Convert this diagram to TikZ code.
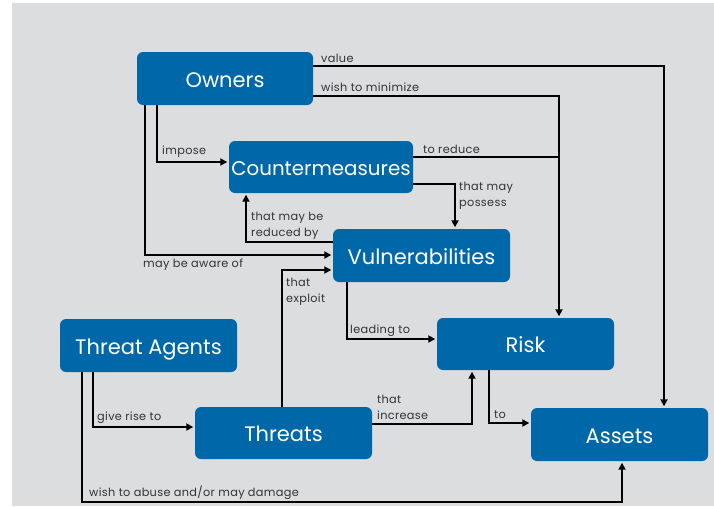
\documentclass[tikz,border=0pt]{standalone}
\usepackage{fontspec}
\setmainfont{Poppins}
\newfontfamily\lblfont[LetterSpace=3]{Poppins}
\usetikzlibrary{arrows.meta}
\definecolor{bg}{HTML}{DCDDDF}
\definecolor{boxblue}{HTML}{0068A8}
\definecolor{lbl}{HTML}{333333}
\begin{document}
\begin{tikzpicture}[x=1pt,y=-1pt,
  box/.style={draw=none,fill=boxblue,rounded corners=6pt,text=white,font=\fontsize{21}{24}\selectfont,inner sep=0pt,text height=17.6pt,text depth=0pt},
  conn/.style={line width=1.7pt,black},
  arr/.style={conn,-{Triangle[length=7pt,width=7pt]},shorten >=1.5pt},
  lab/.style={anchor=base west,inner sep=0pt,text=lbl,font=\lblfont\fontsize{11.3}{15.5}\selectfont,align=left}]
\useasboundingbox (0,0) rectangle (714,506);
\fill[white] (0,0) rectangle (714,506);
\fill[bg] (12,3) rectangle (714,506);
\node[box,minimum width=176pt,minimum height=53pt] (own) at (225,78.5) {Owners};
\node[box,minimum width=184pt,minimum height=52pt,font=\fontsize{19.8}{24}\selectfont] (cm) at (321,167) {Countermeasures};
\node[box,minimum width=177pt,minimum height=53pt] (vul) at (421.5,255.5) {Vulnerabilities};
\node[box,minimum width=177pt,minimum height=53pt] (ta) at (148.5,345.5) {Threat Agents};
\node[box,minimum width=177pt,minimum height=52pt] (thr) at (283.5,433) {Threats};
\node[box,minimum width=177pt,minimum height=52pt] (risk) at (525.5,344) {Risk};
\node[box,minimum width=177pt,minimum height=53pt] (ast) at (619.5,434.5) {Assets};
\coordinate (j) at (559,157);
\coordinate (bend) at (622,502);
% connectors
\draw[arr] (own.east |- 0,66) -| (ast.north -| 664,0);
\draw[arr] (own.east |- 0,96) -| (risk.north -| 559,0);
\draw[conn] (cm.east |- 0,157) -- (j);
\draw[arr] (cm.east |- 0,184) -| (vul.north -| 455,0);
\draw[arr] (own.south -| 157,0) |- (cm.west |- 0,162);
\draw[arr] (own.south -| 145,0) |- (vul.west |- 0,255);
\draw[arr] (vul.west |- 0,242) -| (cm.south -| 246,0);
\draw[arr] (thr.north -| 282,0) |- (vul.west |- 0,270);
\draw[arr] (vul.south -| 347,0) |- (risk.west |- 0,339);
\draw[arr] (ta.south -| 93,0) |- (thr.west |- 0,427);
\draw[arr] (ta.south -| 82,0) |- (bend) -- (ast.south -| bend);
\draw[arr] (thr.east |- 0,424) -| (risk.south -| 472,0);
\draw[arr] (risk.south -| 489,0) |- (ast.west |- 0,423);
% labels
\node[lab] (l1) at (321,62) {value};
\node[lab] (l2) at (321,91) {wish to minimize};
\node[lab] (l3) at (423,153) {to reduce};
\node[lab] (l4) at (459,206) {that may\\possess};
\node[lab] (l5) at (162,154) {impose};
\node[lab] (l6) at (251,236) {that may be\\reduced by};
\node[lab] (l7) at (143,267) {may be aware of};
\node[lab] (l8) at (286,302) {that\\exploit};
\node[lab] (l9) at (350,333) {leading to};
\node[lab] (l10) at (377,419) {that\\increase};
\node[lab] (l11) at (494,418) {to};
\node[lab] (l12) at (97,420) {give rise to};
\node[lab] (l13) at (89,496) {wish to abuse and/or may damage};
\end{tikzpicture}
\end{document}
